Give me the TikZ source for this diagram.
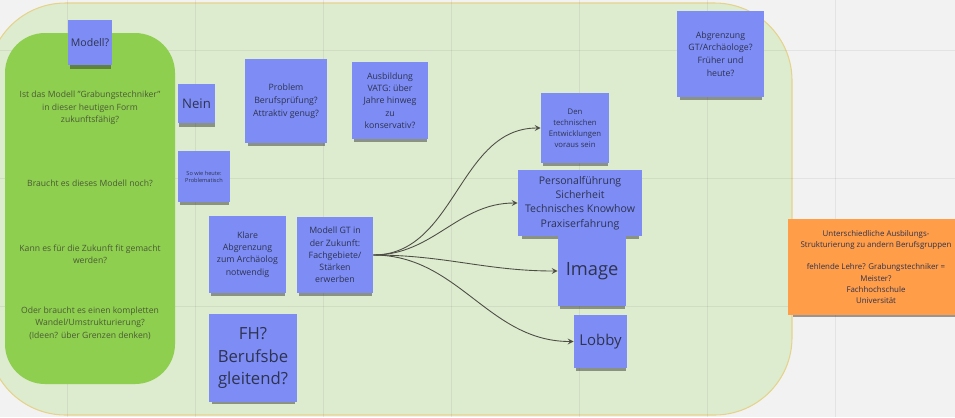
\documentclass[tikz,border=0pt]{standalone}
\usepackage{fontspec}
\setmainfont{Open Sans}
\usetikzlibrary{shadows}

\definecolor{boardgray}{HTML}{F2F2F2}
\definecolor{framefill}{HTML}{DDEBCF}
\definecolor{frameline}{HTML}{E5D38C}
\definecolor{panelgreen}{HTML}{8FCF50}
\definecolor{paneltext}{HTML}{4A5A35}
\definecolor{stickyblue}{HTML}{7D8DF5}
\definecolor{stickytext}{HTML}{2E3350}
\definecolor{stickyorange}{HTML}{FF9D48}
\definecolor{linkgray}{HTML}{4D4D45}

\tikzset{
  sticky/.style={rectangle, fill=stickyblue, text=stickytext, align=center, inner sep=0pt,
    drop shadow={shadow xshift=0.3pt, shadow yshift=-2.8pt, shadow scale=0.95, opacity=0.45, fill=black!85}},
  paneltxt/.style={text=paneltext, align=center, font=\fontsize{4.9}{7.1}\selectfont},
  gridline/.style={draw=black, opacity=0.06, line width=0.4pt},
  link/.style={->, draw=linkgray, line width=0.5pt},
}

\begin{document}
\begin{tikzpicture}[x=0.02cm,y=-0.02cm,>=stealth]
			\useasboundingbox (0,0) rectangle (955,417);
			\fill[boardgray] (0,0) rectangle (955,417);
			% frame
			\draw[fill=framefill, draw=frameline, line width=0.6pt, rounded corners=1.55cm] (-12,3) rectangle (792,415);
			\foreach \gx in {67,195,...,963}
				\draw[gridline] (\gx,0) -- (\gx,417);
			\foreach \gy in {50,178,306}
				\draw[gridline] (0,\gy) -- (955,\gy);

			% green panel with the questions
			\fill[panelgreen, rounded corners=0.8cm] (5,33) rectangle (175,384);
			\node[paneltxt] (qheute) at (90,108) {Ist das Modell "Grabungstechniker"\\in dieser heutigen Form\\zukunftsfähig?};
			\node[paneltxt] (qnoch) at (90,183) {Braucht es dieses Modell noch?};
			\node[paneltxt] (qfit) at (90,254) {Kann es für die Zukunft fit gemacht\\werden?};
			\node[paneltxt] (qwandel) at (90,323) {Oder braucht es einen kompletten\\Wandel/Umstrukturierung?\\(Ideen? über Grenzen denken)};

			\node[sticky, minimum width=0.88cm, minimum height=0.9cm, font=\fontsize{6}{7}\selectfont] (modell) at (90,42.5) {Modell?};

			\node[sticky, minimum width=0.74cm, minimum height=0.78cm, font=\fontsize{7.5}{9}\selectfont] (nein) at (196.5,103.5) {Nein};
			\node[sticky, minimum width=1.04cm, minimum height=1.02cm, font=\fontsize{3.2}{4}\selectfont] (sowie) at (204,176.5) {So wie heute:\\Problematisch};

			\node[sticky, minimum width=1.64cm, minimum height=1.68cm, font=\fontsize{5}{7.3}\selectfont] (problem) at (286,101) {Problem\\Berufsprüfung?\\Attraktiv genug?};
			\node[sticky, minimum width=1.52cm, minimum height=1.54cm, font=\fontsize{5}{7}\selectfont] (ausbildung) at (390,100.5) {Ausbildung\\VATG: über\\Jahre hinweg\\zu\\konservativ?};

			\node[sticky, minimum width=1.54cm, minimum height=1.54cm, font=\fontsize{5}{7}\selectfont] (klare) at (247.5,254.5) {Klare\\Abgrenzung\\zum Archäolog\\notwendig};
			\node[sticky, minimum width=1.52cm, minimum height=1.52cm, font=\fontsize{5}{7}\selectfont] (modellgt) at (335,255) {Modell GT in\\der Zukunft:\\Fachgebiete/\\Stärken\\erwerben};
			\node[sticky, minimum width=1.76cm, minimum height=1.76cm, font=\fontsize{9.5}{12.6}\selectfont] (fh) at (253,358) {FH?\\Berufsbe\\gleitend?};

			% the four goals
			\node[sticky, minimum width=1.36cm, minimum height=1.4cm, font=\fontsize{4.4}{6.3}\selectfont] (technik) at (575,128) {Den\\technischen\\Entwicklungen\\voraus sein};
			\node[sticky, minimum width=2.48cm, minimum height=1.32cm, font=\fontsize{6}{8.1}\selectfont] (personal) at (580,203) {Personalführung\\Sicherheit\\Technisches Knowhow\\Praxiserfahrung};
			\node[sticky, minimum width=1.36cm, minimum height=1.4cm, font=\fontsize{10.4}{12}\selectfont] (image) at (592,271) {Image};
			\node[sticky, minimum width=1.06cm, minimum height=1.06cm, font=\fontsize{8.5}{10}\selectfont] (lobby) at (600.5,341.5) {Lobby};

			\draw[link] (modellgt.east) to[out=0,in=180] (technik.west);
			\draw[link] (modellgt.east) to[out=0,in=180] (personal.west);
			\draw[link] (modellgt.east) to[out=0,in=180] (image.west);
			\draw[link] (modellgt.east) to[out=0,in=180] (lobby.west);

			\node[sticky, minimum width=1.74cm, minimum height=1.72cm, font=\fontsize{5}{7.2}\selectfont] (abgrenzung) at (720.5,54) {Abgrenzung\\GT/Archäologe?\\Früher und\\heute?};

			\node[sticky, fill=stickyorange, minimum width=3.52cm, minimum height=1.92cm, font=\fontsize{4.5}{6.3}\selectfont] (struktur) at (876,267) {Unterschiedliche Ausbilungs-\\Strukturierung zu andern Berufsgruppen\\[6.3pt]fehlende Lehre? Grabungstechniker =\\Meister?\\Fachhochschule\\Universität};
		\end{tikzpicture}
\end{document}
